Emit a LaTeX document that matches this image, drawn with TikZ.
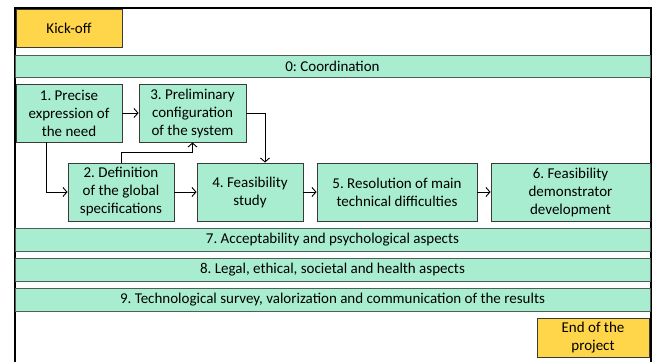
\documentclass[tikz,border=0pt]{standalone}
\usepackage{fontspec}
\setmainfont{Carlito}
\usetikzlibrary{arrows.meta}
\definecolor{taskgreen}{HTML}{A8EDD0}
\definecolor{mileyellow}{HTML}{FFD54A}
\definecolor{edgegray}{HTML}{3A3A3A}
\frenchspacing

\begin{document}
\begin{tikzpicture}[x=1pt, y=-1pt,
    every node/.style={font=\fontsize{15}{18}\selectfont, align=center, inner sep=0pt},
    task/.style={draw=edgegray, line width=0.9pt, fill=taskgreen, minimum height=58pt},
    bar/.style={draw=edgegray!80!taskgreen, line width=1pt, fill=taskgreen, minimum width=635pt, minimum height=23pt},
    milestone/.style={draw=edgegray, line width=0.9pt, fill=mileyellow},
    link/.style={line width=0.9pt, -{Straight Barb[length=4pt, width=9pt]}}]
    \useasboundingbox (0,0) rectangle (652,362);
    \draw[line width=2pt] (14.5,362) -- (14.5,8) -- (651,8) -- (651,362);
    \node[milestone, minimum width=106pt, minimum height=38pt] (kickoff) at (69,28) {Kick-off};
    \node[bar, minimum height=22pt] (wp0) at (332.5,66) {0: Coordination};
    \node[task, minimum width=106pt] (wp1) at (69,113) {1. Precise\\expression of\\the need};
    \node[task, minimum width=107pt] (wp3) at (192.5,113) {3. Preliminary\\configuration\\of the system};
    \node[task, minimum width=106pt] (wp2) at (121,192) {2. Definition\\of the global\\specifications};
    \node[task, minimum width=106pt] (wp4) at (250,192) {4. Feasibility\\study};
    \node[task, minimum width=160pt] (wp5) at (397,192) {5. Resolution of main\\technical difficulties};
    \node[task, minimum width=159pt] (wp6) at (570.5,192) {6. Feasibility\\demonstrator\\development};
    \node[bar] (wp7) at (332.5,239.5) {7. Acceptability and psychological aspects};
    \node[bar] (wp8) at (332.5,269.5) {8. Legal, ethical, societal and health aspects};
    \node[bar] (wp9) at (332.5,299.5) {9. Technological survey, valorization and communication of the results};
    \node[milestone, minimum width=112pt, minimum height=39pt] (endproj) at (593,337.5) {End of the\\project};
    \draw[link] (wp1.east) -- (wp3.west);
    \draw[link] ([xshift=-23pt]wp1.south) |- (wp2.west);
    \draw[link] (wp2.north) -- ++(0,-10) -| (wp3.south);
    \draw[link] (wp3.east) -| ([xshift=15pt]wp4.north);
    \draw[link] (wp2.east) -- (wp4.west);
    \draw[link] (wp4.east) -- (wp5.west);
    \draw[link] (wp5.east) -- (wp6.west);
\end{tikzpicture}
\end{document}
